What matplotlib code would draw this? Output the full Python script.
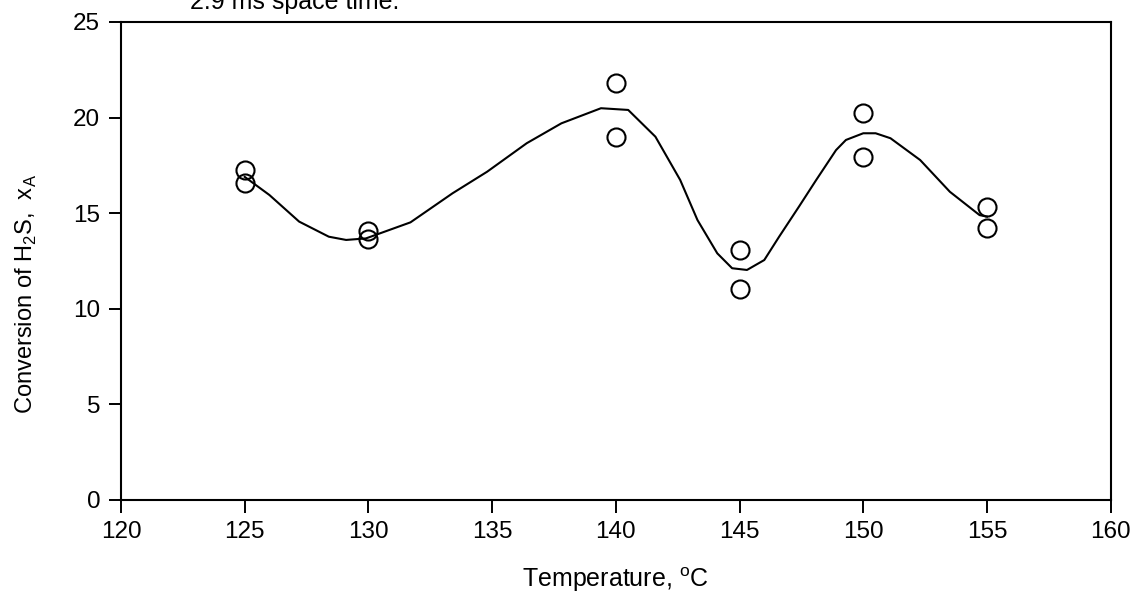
import matplotlib
matplotlib.use('Agg')
import matplotlib.pyplot as plt

plt.rcParams['font.family'] = ['Liberation Sans', 'DejaVu Sans']
plt.rcParams['mathtext.fontset'] = 'custom'
plt.rcParams['mathtext.rm'] = 'Liberation Sans'

# measured conversions, two runs per temperature
temp = [125, 125, 130, 130, 140, 140, 145, 145, 150, 150, 155, 155]
conv = [17.25, 16.6, 14.05, 13.65, 21.8, 19.0, 13.1, 11.05, 20.25, 17.95, 15.3, 14.25]

# smoothed trend line
fit_t = [125.0, 126.0, 127.2, 128.4, 129.1, 129.9, 131.7, 133.4, 134.8, 136.4,
         137.8, 139.4, 140.5, 141.6, 142.6, 143.3, 144.1, 144.7, 145.3, 146.0,
         146.6, 147.4, 148.1, 148.9, 149.3, 150.0, 150.5, 151.1, 152.3, 153.5,
         154.7, 155.0]
fit_x = [16.9, 15.95, 14.56, 13.77, 13.6, 13.68, 14.52, 16.04, 17.17, 18.66,
         19.7, 20.49, 20.4, 19.0, 16.74, 14.64, 12.9, 12.12, 12.03, 12.55,
         13.77, 15.34, 16.74, 18.3, 18.83, 19.18, 19.18, 18.92, 17.78, 16.12,
         14.9, 14.82]

fig = plt.figure(figsize=(11.38, 6.06), dpi=100)
ax = fig.add_axes([0.1063, 0.175, 0.8697, 0.7887])

ax.plot(fit_t, fit_x, color='black', lw=1.5)
ax.plot(temp, conv, 'o', mfc='none', mec='black', ms=13, mew=1.5)

ax.set_xlim(120, 160)
ax.set_ylim(0, 25)
ax.set_xticks(range(120, 161, 5))
ax.set_yticks(range(0, 26, 5))
ax.tick_params(direction='out', length=9, width=1.4, labelsize=17.5, pad=6)
for s in ax.spines.values():
    s.set_linewidth(1.5)

ax.set_xlabel('Temperature, $^\\mathregular{o}$C', fontsize=18, labelpad=16)
ax.set_ylabel('Conversion of H$_\\mathregular{2}$S,  x$_\\mathregular{A}$',
              fontsize=17)
ax.yaxis.set_label_coords(-0.083, 0.43)

fig.text(0.167, 0.985, '2.9 ms space time.', fontsize=18, va='baseline')

fig.savefig('out.png', dpi=100)
